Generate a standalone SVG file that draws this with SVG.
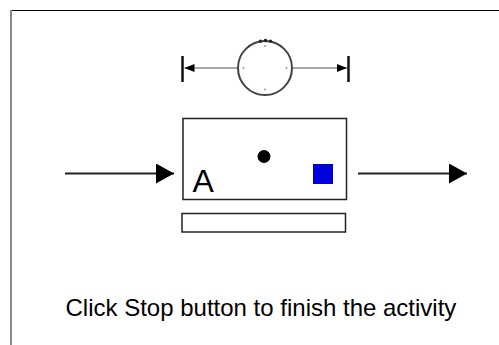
<svg xmlns="http://www.w3.org/2000/svg" width="499" height="345" viewBox="0 0 499 345">
<style>
.box{fill:#fff;stroke:#222;stroke-width:1.5}
.conn{stroke:#222;stroke-width:1.8;fill:none}
.thin{stroke:#555;stroke-width:1.2;fill:none}
.bar{stroke:#111;stroke-width:2.5}
.tick{fill:#999}
text{font-family:"Liberation Sans",Arial,sans-serif;fill:#000}
</style>
<defs>
<marker id="big" markerWidth="18" markerHeight="20" refX="18" refY="10" orient="auto" markerUnits="userSpaceOnUse">
<path d="M0,0 L18,10 L0,20 Z" fill="#000"/>
</marker>
<marker id="small" markerWidth="10" markerHeight="8" refX="10" refY="4" orient="auto" markerUnits="userSpaceOnUse">
<path d="M0,0 L10,4 L0,8 Z" fill="#000"/>
</marker>
</defs>
<rect width="499" height="345" fill="#fff"/>
<g id="frame">
<line x1="11" y1="10.5" x2="499" y2="10.5" stroke="#000" stroke-width="1"/>
<line x1="11" y1="10" x2="11" y2="345" stroke="#888" stroke-width="2"/>
</g>
<g id="gauge">
<line class="bar" x1="182.5" y1="56" x2="182.5" y2="82"/>
<line class="bar" x1="348.5" y1="56" x2="348.5" y2="82"/>
<circle cx="265" cy="68" r="27" fill="#fff" stroke="#444" stroke-width="2"/>
<circle cx="260.5" cy="41.2" r="1.6" fill="#222"/>
<circle cx="265.5" cy="40.5" r="1.8" fill="#222"/>
<circle cx="270.5" cy="41.2" r="1.6" fill="#222"/>
<circle class="tick" cx="265" cy="46" r="1"/>
<circle class="tick" cx="243.5" cy="68" r="1"/>
<circle class="tick" cx="286.5" cy="68" r="1"/>
<circle class="tick" cx="265" cy="89.5" r="1"/>
</g>
<g id="process">
<rect class="box" x="183" y="118.5" width="163.5" height="81"/>
<circle cx="264" cy="156.5" r="6.5" fill="#000"/>
<rect x="313" y="164" width="20" height="20" fill="#0000dd"/>
<text x="192.5" y="191.5" font-size="32">A</text>
</g>
<g id="progress">
<rect class="box" x="182" y="213.5" width="163.5" height="18.5"/>
</g>
<g id="connectors">
<line class="conn" x1="65" y1="173.5" x2="174" y2="173.5" marker-end="url(#big)"/>
<line class="conn" x1="358" y1="173.5" x2="467" y2="173.5" marker-end="url(#big)"/>
<line class="thin" x1="238" y1="68" x2="184.5" y2="68" marker-end="url(#small)"/>
<line class="thin" x1="292" y1="68" x2="347" y2="68" marker-end="url(#small)"/>
</g>
<text x="65.5" y="316" font-size="24">Click Stop button to finish the activity</text>
</svg>
